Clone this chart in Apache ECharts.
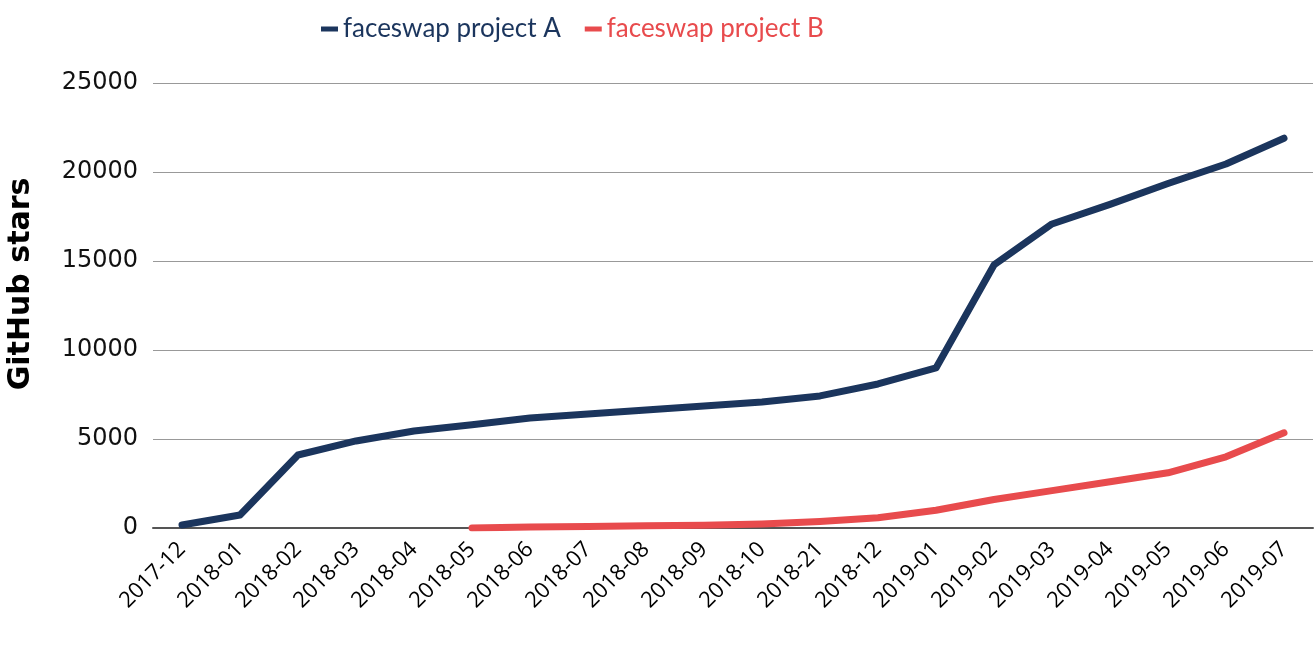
<!DOCTYPE html>
<html>
<head>
<meta charset="utf-8">
<script src="https://cdn.jsdelivr.net/npm/echarts@6/dist/echarts.min.js"></script>
<style>html,body{margin:0;padding:0;background:#fff}#c{width:1316px;height:666px}</style>
</head>
<body>
<div id="c"></div>
<script>
const categories = ['2017-12','2018-01','2018-02','2018-03','2018-04','2018-05','2018-06','2018-07','2018-08','2018-09','2018-10','2018-21','2018-12','2019-01','2019-02','2019-03','2019-04','2019-05','2019-06','2019-07'];
const projectA = [170, 730, 4100, 4890, 5450, 5800, 6180, 6400, 6630, 6850, 7080, 7420, 8090, 8990, 14780, 17080, 18180, 19350, 20450, 21900];
const projectB = [null, null, null, null, null, 0, 50, 80, 120, 160, 230, 370, 580, 1000, 1600, 2100, 2600, 3100, 4000, 5350];
const yTicks = [0, 5000, 10000, 15000, 20000, 25000];
const yTitle = 'GitHub stars';

const colorA = '#1b355d';
const colorB = '#e84b4d';

const chart = echarts.init(document.getElementById('c'), null, {renderer: 'canvas'});
chart.setOption({
  animation: false,
  legend: {
    top: 11,
    left: 316,
    itemWidth: 17,
    itemHeight: 5,
    itemGap: 24,
    icon: 'rect',
    textStyle: {fontFamily: 'Lato', fontSize: 26},
    data: [
      {name: 'faceswap project A', textStyle: {color: colorA}, itemStyle: {color: colorA}},
      {name: 'faceswap project B', textStyle: {color: colorB}, itemStyle: {color: colorB}}
    ]
  },
  grid: {left: 153, right: 3, top: 83, bottom: 138, containLabel: false},
  graphic: [{
    type: 'text',
    x: 21, y: 284,
    rotation: Math.PI / 2,
    style: {
      text: yTitle,
      align: 'center', verticalAlign: 'middle',
      textAlign: 'center', textVerticalAlign: 'middle',
      font: 'bold 30px "DejaVu Sans"',
      fill: '#000'
    }
  }],
  xAxis: {
    type: 'category',
    data: categories,
    boundaryGap: true,
    axisLine: {lineStyle: {color: '#555', width: 2}},
    axisTick: {show: false},
    axisLabel: {rotate: 45, fontFamily: 'Open Sans', fontSize: 22, color: '#000', margin: 18, interval: 0}
  },
  yAxis: {
    type: 'value',
    min: yTicks[0],
    max: yTicks[yTicks.length - 1],
    interval: 5000,
    axisLine: {show: false},
    axisTick: {show: false},
    axisLabel: {fontFamily: 'DejaVu Sans', fontSize: 24, color: '#111', margin: 15, formatter: v => String(v)},
    splitLine: {lineStyle: {color: '#999', width: 1}}
  },
  series: [
    {
      name: 'faceswap project A', type: 'line', data: projectA,
      symbol: 'none', smooth: false,
      lineStyle: {color: colorA, width: 7, cap: 'round', join: 'round'},
      itemStyle: {color: colorA}
    },
    {
      name: 'faceswap project B', type: 'line', data: projectB,
      symbol: 'none', smooth: false,
      lineStyle: {color: colorB, width: 7, cap: 'round', join: 'round'},
      itemStyle: {color: colorB}
    }
  ]
});
</script>
</body>
</html>
